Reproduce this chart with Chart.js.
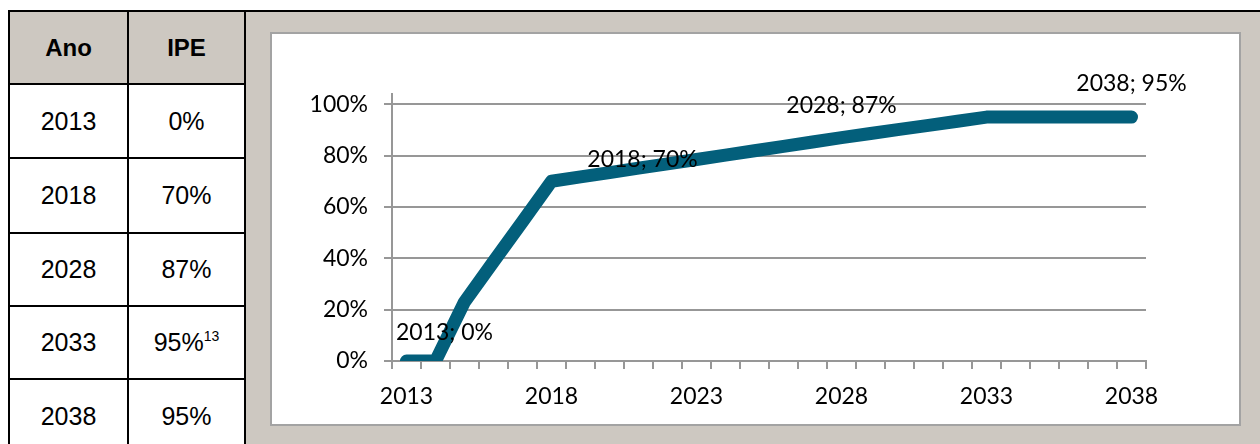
<!DOCTYPE html>
<html>
<head>
<meta charset="utf-8">
<script src="https://cdn.jsdelivr.net/npm/chart.js"></script>
<style>
html, body { margin: 0; padding: 0; background: #fff; width: 1260px; height: 444px; overflow: hidden; position: relative; }
#panel { position: absolute; left: 244px; top: 10px; width: 1016px; height: 434px; background: #CDC8C1; border-top: 2px solid #000; box-sizing: border-box; }
#tbl { position: absolute; left: 8px; top: 10px; border-collapse: collapse; table-layout: fixed; font-family: "Liberation Sans", Arial, sans-serif; font-size: 25px; color: #000; }
#tbl td, #tbl th { border: 2px solid #000; text-align: center; vertical-align: middle; padding: 0; background: #fff; }
#tbl th { background: #CDC8C1; font-weight: bold; font-size: 24px; }
#tbl sup { font-size: 14px; vertical-align: 10px; line-height: 0; }
#box { position: absolute; left: 270px; top: 32px; width: 971px; height: 394px; background: #fff; border: 2px solid #A3A3A3; box-sizing: border-box; }
#wrap { position: absolute; left: 272px; top: 34px; width: 967px; height: 390px; }
</style>
</head>
<body>
<div id="panel"></div>
<table id="tbl">
  <colgroup><col style="width:119px"><col style="width:117px"></colgroup>
  <thead><tr style="height:73px"><th>Ano</th><th>IPE</th></tr></thead>
  <tbody id="tbody"></tbody>
</table>
<div id="box"></div>
<div id="wrap"><canvas id="chart"></canvas></div>
<script>
// table values
var tableYears = ['2013', '2018', '2028', '2033', '2038'];
var tableIPE = ['0%', '70%', '87%', '95%', '95%'];
var tableNotes = ['', '', '', '13', ''];

// chart values
var years = ['2013','2014','2015','2016','2017','2018','2019','2020','2021','2022','2023','2024','2025',
             '2026','2027','2028','2029','2030','2031','2032','2033','2034','2035','2036','2037','2038'];
var ipe = [0, 0, 23, 38.7, 54.3, 70, 71.7, 73.4, 75.1, 76.8, 78.5, 80.2, 81.9,
           83.6, 85.3, 87, 88.6, 90.2, 91.8, 93.4, 95, 95, 95, 95, 95, 95];
var yTicks = [0, 20, 40, 60, 80, 100];
var labelled = ['2013', '2018', '2028', '2038'];

// label offsets from the point (px)
var labelOffsets = [[38, -28], [91, -22], [0, -32], [0, -34]];

var rowHeights = [74, 75, 73, 73, 74];
var tbody = document.getElementById('tbody');
for (var i = 0; i < tableYears.length; i++) {
    var tr = document.createElement('tr');
    tr.style.height = rowHeights[i] + 'px';
    var note = tableNotes[i] ? '<sup>' + tableNotes[i] + '</sup>' : '';
    tr.innerHTML = '<td>' + tableYears[i] + '</td><td>' + tableIPE[i] + note + '</td>';
    tbody.appendChild(tr);
}

var pointLabels = {
    id: 'pointLabels',
    afterDatasetsDraw: function (chart) {
        var ctx = chart.ctx;
        var meta = chart.getDatasetMeta(0);
        ctx.save();
        ctx.font = '23px Lato';
        ctx.fillStyle = '#000';
        ctx.textAlign = 'center';
        ctx.textBaseline = 'middle';
        labelled.forEach(function (y, k) {
            var idx = years.indexOf(y);
            var pt = meta.data[idx];
            ctx.fillText(y + '; ' + ipe[idx] + '%', pt.x + labelOffsets[k][0], pt.y + labelOffsets[k][1]);
        });
        ctx.restore();
    }
};

var gridColor = '#979797';
var ctx = document.getElementById('chart').getContext('2d');
var myChart = new Chart(ctx, {
    type: 'line',
    data: {
        labels: years,
        datasets: [{
            data: ipe,
            borderColor: '#035F7B',
            borderWidth: 13,
            borderCapStyle: 'round',
            borderJoinStyle: 'round',
            pointRadius: 0,
            tension: 0,
            fill: false
        }]
    },
    options: {
        responsive: true,
        maintainAspectRatio: false,
        animation: false,
        layout: { padding: { top: 60, right: 93, left: 0, bottom: 0 } },
        plugins: { legend: { display: false }, tooltip: { enabled: false } },
        scales: {
            x: {
                type: 'category',
                offset: true,
                afterFit: function (s) { s.height = 63; },
                grid: { offset: true, drawOnChartArea: false, drawTicks: true, tickLength: 8, color: gridColor, lineWidth: 2 },
                border: { color: gridColor, width: 2 },
                ticks: {
                    autoSkip: false, maxRotation: 0, padding: 14,
                    color: '#000', font: { family: 'Lato', size: 23 },
                    callback: function (v, i) { return i % 5 === 0 ? years[i] : ''; }
                }
            },
            y: {
                min: 0, max: 104,
                afterFit: function (s) { s.width = 120; },
                afterBuildTicks: function (s) { s.ticks = yTicks.map(function (v) { return { value: v }; }); },
                grid: { color: gridColor, lineWidth: 2, tickLength: 8 },
                border: { color: gridColor, width: 2 },
                ticks: {
                    padding: 16, color: '#000', font: { family: 'Lato', size: 23 },
                    callback: function (v) { return v + '%'; }
                }
            }
        }
    },
    plugins: [pointLabels]
});
</script>
</body>
</html>
